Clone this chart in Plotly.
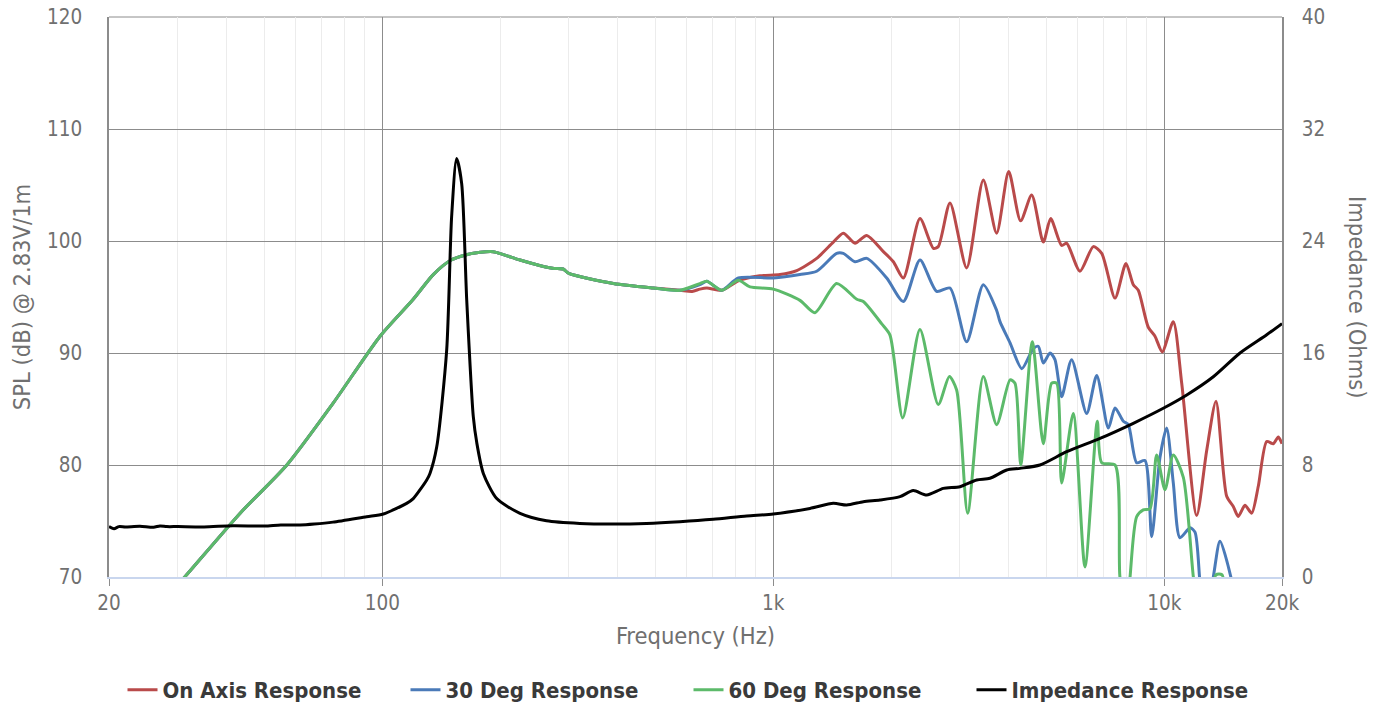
import numpy as np
import plotly.graph_objects as go

# ---- data -----------------------------------------------------------------
# shared low-frequency part of the three SPL curves
low_freq = [20, 25, 28.6, 31.6, 43.3, 57.0, 74.8, 98.7, 120, 135, 150, 165, 178, 192,
            225, 260, 275, 290, 300, 390, 493, 577]
low_db = [62.0, 66.1, 68.5, 70.2, 75.7, 80.0, 85.5, 91.5, 94.8, 97.0, 98.3, 98.8, 99.0, 99.05,
          98.3, 97.7, 97.55, 97.5, 97.1, 96.2, 95.8, 95.6]

on_freq = [620, 649, 676, 738, 814, 924, 1040, 1148, 1291, 1424, 1510, 1618, 1734, 1912,
           2028, 2151, 2372, 2566, 2642, 2831, 3123, 3444, 3726, 4000, 4290, 4580, 4904,
           5121, 5464, 5628, 6086, 6584, 6918, 7482, 7980, 8332, 8580, 9100, 9466, 9882,
           10544, 11080, 12102, 12836, 13560, 14440, 15012, 15460, 16084, 16730, 17394,
           18278, 19002, 19568, 20000]
on_db = [95.5, 95.7, 95.8, 95.6, 96.45, 96.9, 97.0, 97.35, 98.45, 99.9, 100.7, 99.8, 100.5,
         99.05, 98.15, 96.7, 102.0, 99.35, 99.5, 103.4, 97.6, 105.45, 100.7, 106.2, 101.8,
         104.1, 99.9, 102.0, 99.6, 99.8, 97.3, 99.5, 98.9, 94.9, 98.0, 96.1, 95.6, 92.3,
         91.5, 90.1, 92.8, 87.3, 75.5, 81.3, 85.7, 77.2, 76.3, 75.4, 76.4, 75.7, 78.1,
         82.1, 81.9, 82.5, 81.9]

deg30_freq = [649, 676, 738, 814, 1000, 1170, 1291, 1452, 1510, 1618, 1734, 1950, 2151,
              2372, 2617, 2831, 3123, 3444, 3726, 3800, 4032, 4320, 4624, 4762, 4904,
              5100, 5253, 5464, 5794, 6332, 6717, 7192, 7482, 7858, 8090, 8500, 8924,
              9284, 9750, 10140, 10544, 10968, 11636, 11982, 12340, 12700, 13346, 13882,
              14800, 15500]
deg30_db = [96.1, 96.4, 95.6, 96.7, 96.7, 97.0, 97.3, 98.9, 98.9, 98.15, 98.45, 96.7, 94.6,
            98.3, 95.5, 95.8, 91.0, 96.1, 93.8, 92.8, 90.9, 88.6, 90.4, 90.6, 89.1, 90.0,
            89.4, 86.1, 89.4, 84.6, 88.0, 83.3, 85.1, 83.9, 83.6, 80.2, 80.4, 73.6, 80.7,
            83.3, 78.4, 73.5, 74.4, 74.0, 69.5, 66.0, 70.0, 73.2, 70.0, 66.0]

deg60_freq = [649, 676, 738, 814, 872, 1000, 1170, 1278, 1452, 1635, 1699, 1894, 1988,
              2143, 2372, 2642, 2820, 2944, 3141, 3444, 3726, 4032, 4151, 4294, 4597,
              4904, 5152, 5306, 5464, 5850, 6268, 6740, 6918, 7482, 7700, 8013, 8174,
              8500, 8836, 9192, 9560, 10040, 10544, 11186, 11866, 12400, 13200, 13560,
              14046, 14400, 15000]
deg60_db = [96.2, 96.4, 95.6, 96.5, 95.9, 95.7, 94.7, 93.6, 96.2, 94.8, 94.6, 92.6, 91.6,
            84.2, 92.1, 85.4, 87.9, 86.7, 75.7, 87.9, 83.6, 87.6, 87.3, 80.0, 91.0, 81.9,
            87.3, 87.3, 78.4, 84.6, 70.9, 83.9, 80.2, 80.0, 70.0, 66.0, 70.0, 75.4, 76.0,
            76.1, 80.9, 77.8, 80.9, 78.9, 70.0, 65.0, 68.0, 70.2, 70.2, 68.0, 64.0]

imp_freq = [20, 20.6, 21.2, 22, 24, 26, 27, 28.1, 30, 35, 41.5, 50, 55, 61.6, 67, 74.8,
            91.2, 100.6, 115.4, 120, 129.9, 132.4, 137.8, 146.1, 150.4, 154.9, 159.6,
            164.4, 170.9, 174.4, 181.3, 196.2, 225, 263, 320, 390, 474, 577, 702, 855,
            1000, 1241, 1424, 1540, 1699, 1874, 2109, 2280, 2468, 2722, 3003, 3312, 3582,
            3954, 4276, 4808, 5628, 6848, 8332, 9940, 11412, 13346, 15618, 18278, 20000]
imp_ohm = [3.6, 3.45, 3.6, 3.58, 3.62, 3.55, 3.65, 3.6, 3.6, 3.58, 3.66, 3.64, 3.72, 3.71,
           3.78, 3.92, 4.31, 4.5, 5.26, 5.6, 6.93, 7.4, 9.3, 16.2, 25.7, 29.9, 28.1, 19.8,
           11.45, 9.6, 7.4, 5.6, 4.55, 4.02, 3.83, 3.79, 3.83, 3.95, 4.12, 4.36, 4.5, 4.9,
           5.26, 5.14, 5.38, 5.5, 5.74, 6.17, 5.86, 6.33, 6.45, 6.93, 7.05, 7.64, 7.76, 8.0,
           8.95, 9.9, 10.98, 12.05, 13.0, 14.3, 16.0, 17.3, 18.1]

x_tickvals = [20, 100, 1000, 10000, 20000]
x_ticktext = ["20", "100", "1k", "10k", "20k"]
minor_vals = [30, 40, 50, 60, 70, 80, 90, 200, 300, 400, 500, 600, 700, 800, 900,
              2000, 3000, 4000, 5000, 6000, 7000, 8000, 9000]

# ---- figure ---------------------------------------------------------------
FONT = "DejaVu Sans Condensed, DejaVu Sans"
RED, BLUE, GREEN = "#b94a4a", "#4a7ab8", "#5cba6a"
GRAY_TXT = "#707070"

# page body has an 8px margin; figure coordinates = screen coordinates - 8
W, H = 1366, 701
L, R, T, B = 101, 1274, 9, 569

def line(color):
    return dict(color=color, width=3, shape="spline", smoothing=0.7)

fig = go.Figure()
fig.add_trace(go.Scatter(x=low_freq + on_freq, y=low_db + on_db, mode="lines",
                         name="On Axis Response", line=line(RED)))
fig.add_trace(go.Scatter(x=low_freq + deg30_freq, y=low_db + deg30_db, mode="lines",
                         name="30 Deg Response", line=line(BLUE)))
fig.add_trace(go.Scatter(x=low_freq + deg60_freq, y=low_db + deg60_db, mode="lines",
                         name="60 Deg Response", line=line(GREEN)))
fig.add_trace(go.Scatter(x=imp_freq, y=imp_ohm, mode="lines", yaxis="y2",
                         name="Impedance Response", line=line("#000000")))

tickfont = dict(family=FONT, size=20.5, color=GRAY_TXT)
titlefont = dict(family=FONT, size=23.5, color=GRAY_TXT)
fig.update_layout(
    width=W, height=H,
    margin=dict(l=L, r=W - R, t=T, b=H - B, autoexpand=False),
    paper_bgcolor="white", plot_bgcolor="white",
    font=dict(family=FONT, color=GRAY_TXT),
    showlegend=True,
    legend=dict(orientation="h", x=(680.5 - L) / (R - L), xanchor="center",
                y=(B - 682) / (B - T), yanchor="middle",
                font=dict(family=FONT, size=22, color="#3a3a3a", weight="bold"),
                itemwidth=30, entrywidth=238, traceorder="normal"),
    xaxis=dict(type="log", range=[np.log10(20), np.log10(20000)], automargin=False,
               tickvals=x_tickvals, ticktext=x_ticktext, tickfont=tickfont,
               showgrid=True, gridcolor="#8c8c8c", gridwidth=1,
               ticks="outside", ticklen=7, tickcolor="#8c8c8c",
               showline=True, linecolor="#c9d6ee", linewidth=1.5,
               ticklabeloverflow="allow",
               minor=dict(tickvals=minor_vals, showgrid=True, gridcolor="#ececec",
                          gridwidth=1, ticks=""),
               title=dict(text="Frequency (Hz)", font=titlefont, standoff=13),
               zeroline=False),
    yaxis=dict(range=[70, 120], dtick=10, tickfont=tickfont, automargin=False,
               showgrid=True, gridcolor="#8c8c8c", gridwidth=1,
               showline=True, linecolor="#8c8c8c", linewidth=1.5,
               ticks="outside", ticklen=21, tickcolor="rgba(0,0,0,0)", zeroline=False,
               ticklabeloverflow="allow",
               title=dict(text="SPL (dB) @ 2.83V/1m", font=titlefont, standoff=16)),
    yaxis2=dict(range=[0, 40], dtick=8, overlaying="y", side="right", tickfont=tickfont,
                showgrid=False, showline=True, linecolor="#8c8c8c", linewidth=1.5,
                automargin=False, ticks="outside", ticklen=14,
                ticklabeloverflow="allow",
                tickcolor="rgba(0,0,0,0)", zeroline=False),
    shapes=[dict(type="line", xref="paper", yref="paper", x0=0, x1=1, y0=1, y1=1,
                 line=dict(color="#8c8c8c", width=1), layer="below")],
    annotations=[dict(text="Impedance (Ohms)", textangle=90,
                      x=(1349 - L) / (R - L), xref="paper", xanchor="center",
                      y=0.5, yref="paper", yanchor="middle", showarrow=False,
                      font=titlefont)],
)
fig.write_html("out.html")
